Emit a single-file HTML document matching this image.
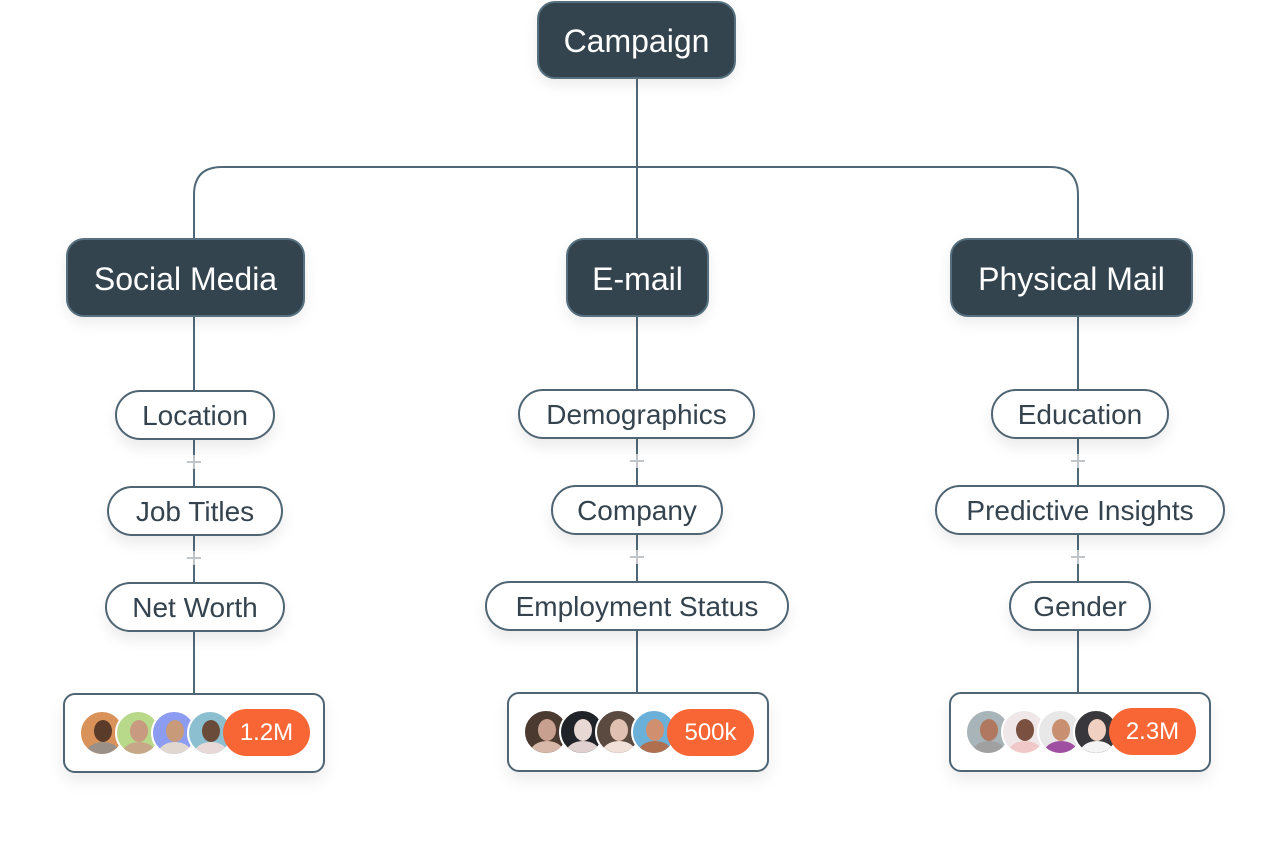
<!DOCTYPE html>
<html><head><meta charset="utf-8"><style>
body{margin:0;width:1287px;height:846px;background:#fff;position:relative;overflow:hidden;font-family:"Liberation Sans",sans-serif}
.d{position:absolute;background:#34444f;border:2px solid #56707f;border-radius:18px;color:#fff;font-size:32px;display:flex;align-items:center;justify-content:center;box-sizing:border-box;box-shadow:0 6px 14px rgba(0,0,0,.08);padding-top:3px}
.p{position:absolute;background:#fff;border:2px solid #4f6574;border-radius:26px;color:#34434e;font-size:28px;display:flex;align-items:center;justify-content:center;box-sizing:border-box;box-shadow:0 8px 14px rgba(0,0,0,.08);padding-top:2px}
.b{position:absolute;background:#fff;border:2px solid #4f6574;border-radius:12px;box-sizing:border-box;box-shadow:0 8px 16px rgba(0,0,0,.08)}
.o{position:absolute;background:#f96635;color:#fff;font-size:24px;border-radius:24px;display:flex;align-items:center;justify-content:center;width:87px;height:47px}
svg.l{position:absolute;left:0;top:0}
.a{position:absolute;width:46px;height:46px;border-radius:50%;border:2px solid #fff;box-sizing:border-box;overflow:hidden}
.a i{position:absolute;left:13px;top:8px;width:18px;height:22px;border-radius:50%}
.a u{position:absolute;left:5px;top:30px;width:34px;height:24px;border-radius:50%}
</style></head><body>
<svg class="l" width="1287" height="846">
<g stroke="#4f6878" stroke-width="2" fill="none">
<path d="M637 79V238"/>
<path d="M194 238V195Q194 167 222 167H1050Q1078 167 1078 195V238"/>
<path d="M194 317V693"/><path d="M637 317V692"/><path d="M1078 317V692"/>
</g>
<g stroke="#bfc5c9" stroke-width="2">
<path d="M187 462h14M194 455v14M187 558h14M194 551v14M630 461h14M637 454v14M630 557h14M637 550v14M1071 461h14M1078 454v14M1071 557h14M1078 550v14"/>
</g>
</svg>
<div class="d" style="left:537px;top:1px;width:199px;height:78px">Campaign</div>
<div class="d" style="left:66px;top:238px;width:239px;height:79px">Social Media</div>
<div class="d" style="left:566px;top:238px;width:143px;height:79px">E-mail</div>
<div class="d" style="left:950px;top:238px;width:243px;height:79px">Physical Mail</div>

<div class="p" style="left:115px;top:390px;width:160px;height:50px">Location</div>
<div class="p" style="left:107px;top:486px;width:176px;height:50px">Job Titles</div>
<div class="p" style="left:105px;top:582px;width:180px;height:50px">Net Worth</div>
<div class="p" style="left:518px;top:389px;width:237px;height:50px">Demographics</div>
<div class="p" style="left:551px;top:485px;width:172px;height:50px">Company</div>
<div class="p" style="left:485px;top:581px;width:304px;height:50px">Employment Status</div>
<div class="p" style="left:991px;top:389px;width:178px;height:50px">Education</div>
<div class="p" style="left:935px;top:485px;width:290px;height:50px">Predictive Insights</div>
<div class="p" style="left:1009px;top:581px;width:142px;height:50px">Gender</div>

<div class="b" style="left:63px;top:693px;width:262px;height:80px"></div>
<div class="b" style="left:507px;top:692px;width:262px;height:80px"></div>
<div class="b" style="left:949px;top:692px;width:262px;height:80px"></div>

<div class="a" style="left:79px;top:710px;background:#d9935a"><i style="background:#5a3a28"></i><u style="background:#9a9088"></u></div>
<div class="a" style="left:115px;top:710px;background:#b8d88a"><i style="background:#c89a80"></i><u style="background:#c6a888"></u></div>
<div class="a" style="left:151px;top:710px;background:#8c9cf0"><i style="background:#c99a7a"></i><u style="background:#e0d8d0"></u></div>
<div class="a" style="left:187px;top:710px;background:#8cc0d0"><i style="background:#6a4a38"></i><u style="background:#e8d8d8"></u></div>
<div class="o" style="left:223px;top:709px">1.2M</div>

<div class="a" style="left:523px;top:709px;background:#4a3a30"><i style="background:#c8a090"></i><u style="background:#d8b8a8"></u></div>
<div class="a" style="left:559px;top:709px;background:#202428"><i style="background:#e8d8d4"></i><u style="background:#e0d0d0"></u></div>
<div class="a" style="left:595px;top:709px;background:#5a4a40"><i style="background:#e0c0b0"></i><u style="background:#f0e0d8"></u></div>
<div class="a" style="left:631px;top:709px;background:#6ab0d8"><i style="background:#d09070"></i><u style="background:#b07050"></u></div>
<div class="o" style="left:667px;top:709px">500k</div>

<div class="a" style="left:965px;top:709px;background:#a8b4b8"><i style="background:#b07860"></i><u style="background:#a0a0a0"></u></div>
<div class="a" style="left:1001px;top:709px;background:#f0e8e8"><i style="background:#7a5040"></i><u style="background:#f0c8c8"></u></div>
<div class="a" style="left:1037px;top:709px;background:#e8e8e8"><i style="background:#c89070"></i><u style="background:#a050a0"></u></div>
<div class="a" style="left:1073px;top:709px;background:#38383c"><i style="background:#f0d0c0"></i><u style="background:#f4f4f4"></u></div>
<div class="o" style="left:1109px;top:708px">2.3M</div>
</body></html>
